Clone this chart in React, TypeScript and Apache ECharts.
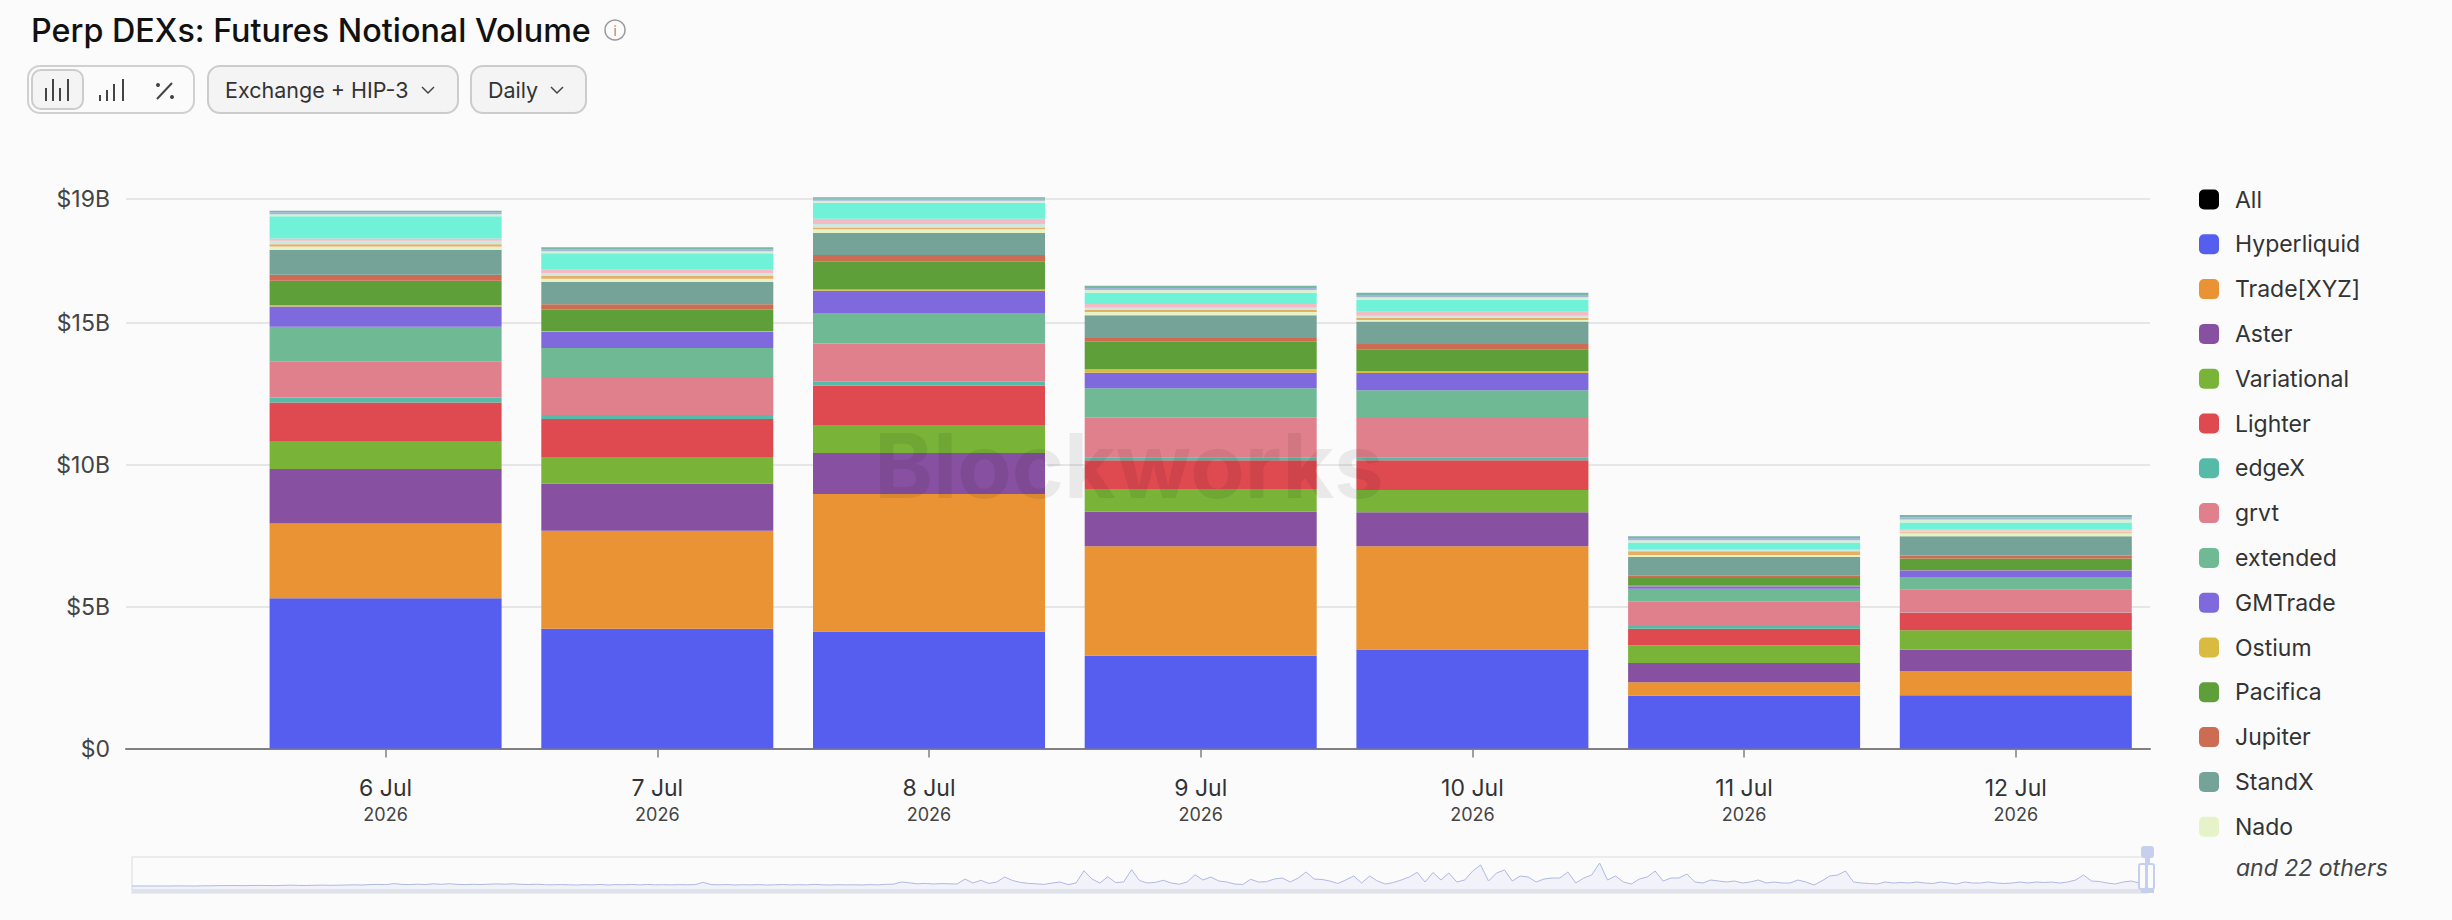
import React, { useEffect, useRef } from "react";
import * as echarts from "echarts";

const FONT = "Inter";

const dayLabels = ["6 Jul", "7 Jul", "8 Jul", "9 Jul", "10 Jul", "11 Jul", "12 Jul"];
const yearLabel = "2026";
const legendNames = ["All", "Hyperliquid", "Trade[XYZ]", "Aster", "Variational", "Lighter", "edgeX", "grvt", "extended", "GMTrade", "Ostium", "Pacifica", "Jupiter", "StandX", "Nado"];

// values in $B per day
const hyperliquid = [5.29, 4.22, 4.12, 3.27, 3.49, 1.86, 1.88];
const tradeXyz = [2.64, 3.45, 4.85, 3.86, 3.64, 0.47, 0.85];
const aster = [1.92, 1.67, 1.44, 1.21, 1.19, 0.68, 0.75];
const variational = [0.96, 0.93, 0.99, 0.8, 0.79, 0.62, 0.69];
const lighter = [1.38, 1.34, 1.38, 1.02, 1.05, 0.59, 0.61];
const edgeX = [0.18, 0.14, 0.14, 0.1, 0.1, 0.1, 0.01];
const grvt = [1.27, 1.34, 1.35, 1.41, 1.42, 0.87, 0.8];
const extended = [1.22, 1.02, 1.07, 1.02, 0.94, 0.44, 0.45];
const gmTrade = [0.71, 0.56, 0.79, 0.55, 0.61, 0.09, 0.24];
const ostium = [0.05, 0.04, 0.04, 0.12, 0.07, 0.01, 0.01];
const pacifica = [0.86, 0.76, 0.98, 0.97, 0.77, 0.28, 0.4];
const jupiter = [0.21, 0.18, 0.24, 0.13, 0.18, 0.08, 0.11];
const standX = [0.88, 0.79, 0.77, 0.8, 0.79, 0.66, 0.68];
const nado = [0.12, 0.11, 0.13, 0.12, 0.06, 0.07, 0.1];
const otherOrange = [0.08, 0.1, 0.07, 0.07, 0.08, 0.13, 0.04];
const otherMist = [0.12, 0.09, 0.12, 0.08, 0.07, 0.05, 0.05];
const otherPink = [0.08, 0.13, 0.18, 0.13, 0.14, 0.03, 0.05];
const otherCyan = [0.78, 0.58, 0.57, 0.4, 0.42, 0.23, 0.24];
const otherPale = [0.07, 0.07, 0.07, 0.09, 0.09, 0.08, 0.11];
const otherLavender = [0.07, 0.07, 0.07, 0.07, 0.08, 0.08, 0.08];
const otherTeal = [0.06, 0.07, 0.05, 0.08, 0.08, 0.06, 0.08];

const stackColors = [
  "#565EF0", "#E99335", "#8850A0", "#79B338", "#DE4A50", "#55BBA8", "#E0808C", "#70B995",
  "#7E69DD", "#D9BB42", "#5E9F39", "#CC6C52", "#76A398", "#E6F3C8",
  "#E8AE62", "#CFE8E2", "#F3BCC4", "#70F2D8", "#D6F0D2", "#A6B4DA", "#76B8A6",
];
const stackNames = [...legendNames.slice(1), "Other A", "Other B", "Other C", "Other D", "Other E", "Other F", "Other G"];
const stackValues = [hyperliquid, tradeXyz, aster, variational, lighter, edgeX, grvt, extended, gmTrade, ostium, pacifica, jupiter, standX, nado, otherOrange, otherMist, otherPink, otherCyan, otherPale, otherLavender, otherTeal];

// overview strip
const overviewValues = [
  3, 3, 3, 3, 3, 3, 3.2, 3, 3, 3.2,
  3.2, 3.4, 3.4, 3.5, 3.3, 3.5, 3.6, 3.5, 3.4, 3.6, 3.8, 3.6, 3.5, 3.7, 3.9, 3.7, 3.8, 4,
  4.2, 4, 4.4, 4.6, 4.3, 5.4, 4.6, 4.4, 4.8, 4.5, 5.2, 4.7, 5.3, 4.6, 4.4, 4.7, 4.5, 4.8, 5.1, 4.8, 5.2, 4.7, 4.5, 4.8, 4.3, 4.2, 4.4, 4.2, 4, 4.3, 4.1, 4.6, 4, 4.4, 4.2, 4.6, 4.1, 4.5, 4.2,
  4.3, 4.1, 4.4, 4.2, 4.4, 6.7, 4.4,
  4.2, 4.4, 4, 4.3, 4.1, 4.4, 4, 4.2, 4.5, 4.1, 4.3, 4.1, 4.6, 4.2, 4, 4.3, 4.1, 4.2, 4, 4.4, 4.1, 4.6, 4.9,
  7, 6.2, 5.2, 5.6, 5, 5.4, 5.2, 5, 10, 6, 8.7, 5.6, 7, 12, 8.5, 6.6, 5.6, 5.2, 4.6, 6, 7, 4.4, 6, 18.3, 10, 6, 12.3, 6.4, 7, 19.3, 8.5, 6, 6.6, 8.7, 6, 4.8, 7, 14.3,
  9, 12, 8, 7, 5, 4.5, 9.7, 7, 7.3, 10, 11, 7, 11, 17, 10, 9.5, 8, 5.5, 9, 13, 6, 13, 8, 5, 6.5, 9, 12, 16.7, 7, 16.5, 9, 16, 7, 9, 18, 24, 8, 16, 19, 8, 13, 12, 7, 10, 11, 11, 17, 6, 11, 14, 26, 9, 13, 7, 5, 10, 12, 18, 8, 11, 11, 15, 7, 6, 9, 8, 7, 8, 6, 7, 9, 6, 7, 6, 6, 9, 7, 4, 8, 13, 14, 18, 7, 6, 5.5, 5, 7, 6, 6.5, 6, 7, 6, 5.5, 7, 6, 5, 7, 6, 6, 7, 6, 5.5, 6, 7, 6, 7, 6.5, 7, 6, 7, 9, 14, 8, 7.5, 6, 5, 7, 8, 6, 7,
];

const yMax = 19.36;

function buildOption() {
  const barSeries = stackNames.map((name, i) => ({
    name,
    type: "bar",
    stack: "total",
    barWidth: 232,
    clip: false,
    xAxisIndex: 1,
    yAxisIndex: 1,
    data: stackValues[i],
    itemStyle: { color: stackColors[i], borderWidth: 0 },
  }));
  const t = (text: string, x: number, y: number, size: number, extra: any = {}) => ({
    type: "text",
    x,
    y,
    style: { text, fontFamily: FONT, fontSize: size, fill: "#333", textVerticalAlign: "middle", ...extra },
  });
  const ln = (x1: number, y1: number, x2: number, y2: number, stroke = "#444", lineWidth = 2) => ({
    type: "line",
    shape: { x1, y1, x2, y2 },
    style: { stroke, lineWidth },
  });
  const box = (x: number, y: number, w: number, h: number, r: number, fill: string, stroke: string, lineWidth = 2) => ({
    type: "rect",
    shape: { x, y, width: w, height: h, r },
    style: { fill, stroke, lineWidth },
  });
  const chevron = (cx: number) => ({
    type: "polyline",
    shape: { points: [[cx - 6, 87], [cx, 93], [cx + 6, 87]] },
    style: { stroke: "#444", lineWidth: 1.5, fill: "none" },
  });
  return {
    animation: false,
    backgroundColor: "#FBFBFB",
    textStyle: { fontFamily: FONT },
    title: {
      text: "Perp DEXs: Futures Notional Volume",
      left: 31,
      top: 14,
      padding: 0,
      textStyle: { fontFamily: FONT, fontSize: 32.3, fontWeight: 500, color: "#111" },
    },
    legend: {
      orient: "vertical",
      left: 2199,
      top: 188,
      padding: 0,
      itemWidth: 20,
      itemHeight: 20,
      itemGap: 21.8,
      selectedMode: false,
      icon: "roundRect",
      data: legendNames,
      textStyle: { fontFamily: FONT, fontSize: 23, color: "#333", padding: [0, 0, 0, 11] },
    },
    grid: [
      { left: 126, top: 199, width: 2024, height: 549.5 },
      { left: 249.75, top: 199, width: 1901.9, height: 549.5 },
      { left: 132, top: 857, width: 2015, height: 32 },
    ],
    xAxis: [
      {
        type: "category",
        gridIndex: 0,
        data: [""],
        axisLine: { show: true, lineStyle: { color: "#808080", width: 2 } },
        axisTick: { show: false },
        axisLabel: { show: false },
        splitLine: { show: false },
      },
      {
        type: "category",
        gridIndex: 1,
        data: dayLabels,
        axisLine: { show: false },
        axisTick: { show: true, alignWithLabel: true, length: 9, lineStyle: { color: "#808080", width: 1.5 } },
        splitLine: { show: false },
        axisLabel: {
          margin: 26,
          interval: 0,
          formatter: (value: string) => `{d|${value}}\n{y|${yearLabel}}`,
          rich: {
            d: { fontFamily: FONT, fontSize: 23, color: "#333", lineHeight: 27, align: "center" },
            y: { fontFamily: FONT, fontSize: 18, color: "#444", lineHeight: 25, align: "center" },
          },
        },
      },
      {
        type: "category",
        gridIndex: 2,
        show: false,
        boundaryGap: false,
        data: overviewValues.map((_, i) => String(i)),
      },
    ],
    yAxis: [
      {
        type: "value",
        gridIndex: 0,
        min: 0,
        max: yMax,
        interval: 5,
        axisLine: { show: false },
        axisTick: { show: false },
        splitLine: { show: true, lineStyle: { color: "#E6E6E6", width: 2 } },
        axisLabel: {
          margin: 16,
          fontFamily: FONT,
          fontSize: 23,
          color: "#444",
          formatter: (v: number) => (v === 0 ? "$0" : `$${Math.round(v)}B`),
        },
      },
      { type: "value", gridIndex: 1, show: false, min: 0, max: yMax },
      { type: "value", gridIndex: 2, show: false, min: 0, max: 32 },
    ],
    series: [
      { name: "All", type: "bar", stack: "total", xAxisIndex: 1, yAxisIndex: 1, data: [], itemStyle: { color: "#000000" } },
      ...barSeries,
      {
        name: "Overview",
        type: "line",
        xAxisIndex: 2,
        yAxisIndex: 2,
        showSymbol: false,
        data: overviewValues,
        lineStyle: { color: "#AEB9E2", width: 1 },
        areaStyle: { color: "rgba(86,94,240,0.08)" },
      },
    ],
    graphic: {
      elements: [
        // info icon
        { type: "circle", shape: { cx: 615, cy: 30, r: 10 }, style: { fill: "none", stroke: "#999", lineWidth: 1.5 } },
        t("i", 615, 31, 13, { fill: "#888", textAlign: "center" }),
        // view-mode switch
        box(28, 66, 166, 47, 12, "#FBFBFB", "#D0D0D0"),
        box(32, 70, 51, 39, 9, "#F4F4F4", "#CCCCCC"),
        ln(46, 88, 46, 101), ln(53, 79, 53, 101), ln(60, 88, 60, 101), ln(68, 79, 68, 101),
        ln(100, 95, 100, 101), ln(107, 90, 107, 101), ln(114, 84, 114, 101), ln(123, 79, 123, 101),
        ln(157, 99, 172, 83),
        { type: "circle", shape: { cx: 158, cy: 85, r: 2 }, style: { fill: "#444" } },
        { type: "circle", shape: { cx: 172, cy: 97, r: 2 }, style: { fill: "#444" } },
        // selectors
        box(208, 66, 250, 47, 12, "#F4F4F4", "#CCCCCC"),
        t("Exchange + HIP-3", 225, 90, 21.5),
        chevron(428),
        box(471, 66, 115, 47, 12, "#F4F4F4", "#CCCCCC"),
        t("Daily", 488, 90, 21.5),
        chevron(557),
        // legend footer
        t("and 22 others", 2236, 868, 23, { fontStyle: "italic", fill: "#444" }),
        // watermark
        {
          type: "text",
          z: 100,
          x: 1129,
          y: 465,
          style: { text: "Blockworks", fontFamily: FONT, fontSize: 89, fontWeight: 700, fill: "rgba(0,0,0,0.07)", textAlign: "center", textVerticalAlign: "middle" },
        },
        // overview frame
        box(132, 857, 2015, 36, 0, "none", "#E6E6E6", 1.5),
        { type: "rect", shape: { x: 132, y: 889, width: 2015, height: 4 }, style: { fill: "#E0E2EA" } },
        // overview handle
        { type: "rect", z: 5, shape: { x: 2141, y: 846, width: 13, height: 12, r: 3 }, style: { fill: "#C6D0EE" } },
        { type: "rect", z: 5, shape: { x: 2145, y: 858, width: 5, height: 6 }, style: { fill: "#C6D0EE" } },
        { type: "rect", z: 5, shape: { x: 2139, y: 864, width: 7, height: 25, r: 2 }, style: { fill: "#FBFBFB", stroke: "#C6D0EE", lineWidth: 2 } },
        { type: "rect", z: 5, shape: { x: 2147, y: 864, width: 7, height: 25, r: 2 }, style: { fill: "#FBFBFB", stroke: "#C6D0EE", lineWidth: 2 } },
        { type: "rect", z: 5, shape: { x: 2141, y: 889, width: 13, height: 4 }, style: { fill: "#C6D0EE" } },
      ],
    },
  };
}

export default function App() {
  const ref = useRef<HTMLDivElement>(null);
  useEffect(() => {
    document.body.style.margin = "0";
    document.body.style.background = "#FBFBFB";
    const chart = echarts.init(ref.current!, undefined, { renderer: "svg" });
    chart.setOption(buildOption() as any);
    return () => chart.dispose();
  }, []);
  return <div ref={ref} style={{ position: "absolute", left: 0, top: 0, width: 2452, height: 920 }} />;
}
